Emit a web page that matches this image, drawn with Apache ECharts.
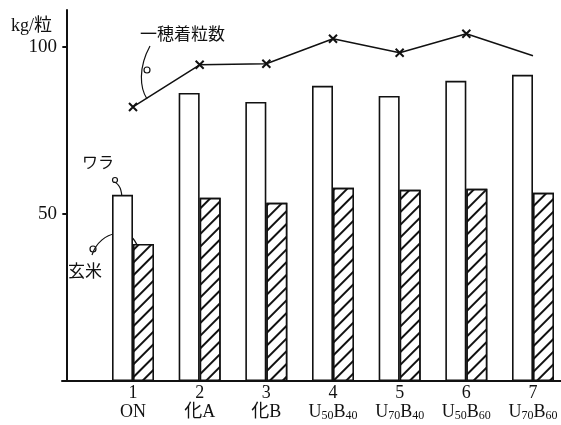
<!DOCTYPE html>
<html><head><meta charset="utf-8">
<script src="https://cdn.jsdelivr.net/npm/echarts@6/dist/echarts.min.js"></script>
<style>html,body{margin:0;padding:0;background:#fff}#c{width:561px;height:425px}</style>
</head><body><div id="c"></div>
<script>
const plotNos = [1, 2, 3, 4, 5, 6, 7];
const treatments = ['ON', '化A', '化B', 'U50B40', 'U70B40', 'U50B60', 'U70B60'];
const straw = [55.7, 86.2, 83.5, 88.3, 85.3, 89.8, 91.6];      // ワラ kg
const brownRice = [41.0, 54.8, 53.3, 57.8, 57.2, 57.5, 56.3];  // 玄米 kg
const grainsPerEar = [82.0, 94.6, 94.9, 102.4, 98.2, 103.9, 97.3]; // 一穂着粒数
const yTicks = [50, 100];

const serif = '"Liberation Serif","Noto Sans CJK JP",serif';
const cjk = '"Noto Sans CJK JP","Liberation Serif",serif';

function fmtLabel(v) {
  const i = plotNos.indexOf(v);
  if (i < 0) return '';
  const t = treatments[i].replace(/([A-Z])(\d+)/g, '{b|$1}{s|$2}');
  const t2 = /\{/.test(t) ? t : '{b|' + t + '}';
  return '{n|' + plotNos[i] + '}\n' + t2;
}

const chart = echarts.init(document.getElementById('c'));
const cross = 'path://M0,0 L10,10 M10,0 L0,10';
chart.setOption({
  animation: false,
  backgroundColor: '#fff',
  grid: { left: 62, right: 0, top: 10, bottom: 44 },
  title: { text: 'kg/粒', left: 6, top: 12, textStyle: { fontFamily: serif, fontSize: 18, fontWeight: 'normal', color: '#111' } },
  xAxis: {
    type: 'value', min: -0.065, max: 7.42,
    axisLine: { show: true, onZero: false, lineStyle: { color: '#111', width: 2 } },
    axisTick: { show: false },
    splitLine: { show: false },
    axisLabel: {
      customValues: plotNos, formatter: fmtLabel, margin: 3, color: '#111',
      rich: {
        n: { fontFamily: serif, fontSize: 18, lineHeight: 19, color: '#111' },
        b: { fontFamily: serif, fontSize: 18, lineHeight: 19, color: '#111' },
        s: { fontFamily: serif, fontSize: 12, lineHeight: 19, verticalAlign: 'bottom', padding: [5, 0, 0, 0], color: '#111' }
      }
    }
  },
  yAxis: {
    type: 'value', min: 0, max: 111, interval: 50,
    axisLine: { show: true, lineStyle: { color: '#111', width: 2 } },
    axisTick: { show: true, length: 4, lineStyle: { color: '#111', width: 2 }, customValues: yTicks },
    splitLine: { show: false },
    axisLabel: { customValues: yTicks, margin: 5, fontFamily: serif, fontSize: 19, color: '#111' }
  },
  series: [
    {
      name: 'ワラ', type: 'bar', barWidth: 21, barGap: '0%',
      data: plotNos.map((x, i) => [x, straw[i]]),
      itemStyle: { color: '#fff', borderColor: '#111', borderWidth: 1.6 }
    },
    {
      name: '玄米', type: 'bar', barWidth: 21, barGap: '0%',
      data: plotNos.map((x, i) => [x, brownRice[i]]),
      itemStyle: {
        color: '#fff', borderColor: '#111', borderWidth: 1.6,
        decal: { symbol: 'rect', symbolSize: 1, dashArrayX: [1, 0], dashArrayY: [2, 7], rotation: -Math.PI / 4, color: '#111', backgroundColor: '#fff' }
      }
    },
    {
      name: '一穂着粒数', type: 'line', z: 5,
      data: plotNos.map((x, i) => ({ value: [x, grainsPerEar[i]], symbol: i === plotNos.length - 1 ? 'none' : cross })),
      symbolSize: 8,
      lineStyle: { color: '#111', width: 1.5 },
      itemStyle: { color: '#111', borderColor: '#111', borderWidth: 2 }
    }
  ],
  graphic: [
    { type: 'text', left: 140, top: 25, style: { text: '一穂着粒数', font: '17px "Noto Sans CJK JP"', fill: '#111' } },
    { type: 'bezierCurve', shape: { x1: 150, y1: 46, x2: 147, y2: 99, cpx1: 138, cpy1: 68, cpx2: 140, cpy2: 88 }, style: { stroke: '#111', lineWidth: 1.2, fill: null } },
    { type: 'circle', shape: { cx: 147, cy: 70, r: 3 }, style: { stroke: '#111', lineWidth: 1.2, fill: null } },
    { type: 'text', left: 82, top: 154, style: { text: 'ワラ', font: '16px "Noto Sans CJK JP"', fill: '#111' } },
    { type: 'bezierCurve', shape: { x1: 114, y1: 182, x2: 122, y2: 200, cpx1: 120, cpy1: 184, cpx2: 122, cpy2: 190 }, style: { stroke: '#111', lineWidth: 1.2, fill: null } },
    { type: 'circle', shape: { cx: 115, cy: 180, r: 2.5 }, style: { stroke: '#111', lineWidth: 1.2, fill: null } },
    { type: 'text', left: 68, top: 262, style: { text: '玄米', font: '17px "Noto Sans CJK JP"', fill: '#111' } },
    { type: 'bezierCurve', shape: { x1: 92, y1: 255, x2: 138, y2: 248, cpx1: 100, cpy1: 230, cpx2: 132, cpy2: 225 }, style: { stroke: '#111', lineWidth: 1.2, fill: null } },
    { type: 'circle', shape: { cx: 93, cy: 249, r: 3 }, style: { stroke: '#111', lineWidth: 1.2, fill: null } }
  ]
});
</script></body></html>
